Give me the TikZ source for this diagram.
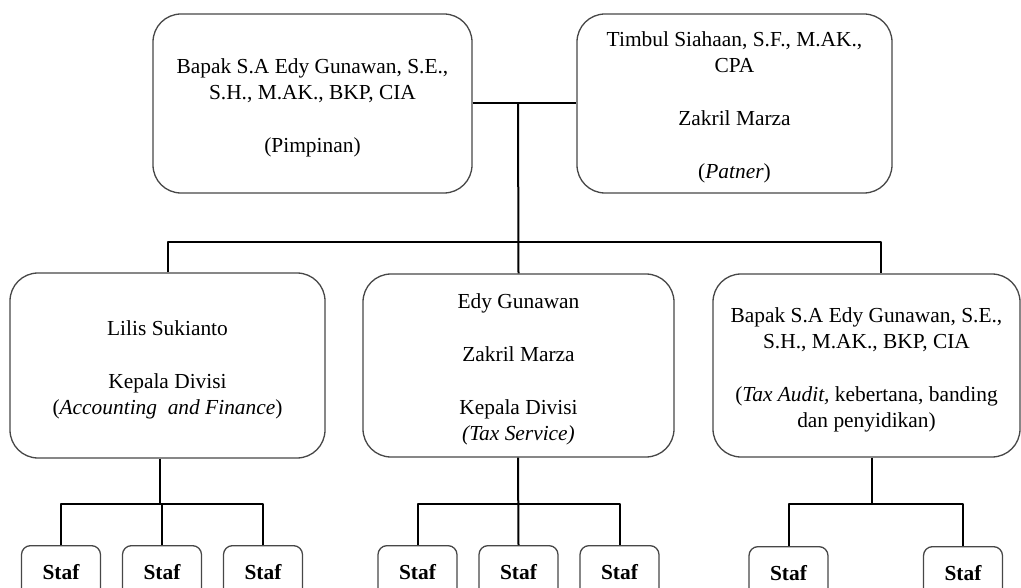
\documentclass[tikz,border=0pt]{standalone}
\usepackage{fontspec}
\setmainfont{Liberation Serif}
\usetikzlibrary{positioning}
\newcommand\turun{\rule{0pt}{23pt}}
\tikzset{
  kotak/.style={draw=black!72, line width=1.3pt, rounded corners=28pt,
    align=center, inner sep=0pt, font=\fontsize{21.4}{26}\selectfont},
  staf/.style={draw=black!72, line width=1.3pt, rounded corners=9pt,
    anchor=north, minimum width=79pt, minimum height=52pt, inner sep=0pt,
    font=\fontsize{21.4}{26}\selectfont\bfseries},
  garis/.style={line width=2pt, black}
}
\begin{document}
\begin{tikzpicture}[x=1pt,y=-1pt,line join=round]
		\useasboundingbox (0,0) rectangle (1021,588);
		\clip (0,0) rectangle (1021,588);
		%==Baris atas
		\node[kotak, minimum width=319pt, minimum height=179pt] (pimpinan) at (312.5,103.5)
			{\turun Bapak S.A Edy Gunawan, S.E.,\\ S.H., M.AK., BKP, CIA\\[27pt] (Pimpinan)};
		\node[kotak, minimum width=315pt, minimum height=179pt] (patner) at (734.5,103.5)
			{\turun Timbul Siahaan, S.F., M.AK.,\\ CPA\\[27pt] Zakril Marza\\[27pt] (\textit{Patner})};
		%==Baris tengah
		\node[kotak, minimum width=315pt, minimum height=185pt] (divA) at (167.5,365.5)
			{\turun Lilis Sukianto\\[27pt] Kepala Divisi\\ (\textit{Accounting\ \ and Finance})};
		\node[kotak, minimum width=311pt, minimum height=183pt] (divB) at (518.5,365.5)
			{\turun Edy Gunawan\\[27pt] Zakril Marza\\[27pt] Kepala Divisi\\ \textit{(Tax Service)}};
		\node[kotak, minimum width=307pt, minimum height=183pt] (divC) at (866.5,365.5)
			{\turun Bapak S.A Edy Gunawan, S.E.,\\ S.H., M.AK., BKP, CIA\\[27pt]
			 (\textit{Tax Audit,} kebertana, banding\\ dan penyidikan)};
		%==Staf
		\node[staf] (sA1) at (61,545) {Staf};
		\node[staf] (sA2) at (162,545) {Staf};
		\node[staf] (sA3) at (263,545) {Staf};
		\node[staf] (sB1) at (417.5,545) {Staf};
		\node[staf] (sB2) at (518.5,545) {Staf};
		\node[staf] (sB3) at (619.5,545) {Staf};
		\node[staf] (sC1) at (788.5,546) {Staf};
		\node[staf] (sC2) at (963,546) {Staf};
		%==Garis penghubung
		\coordinate (atas) at (518,103.5);
		\coordinate (bagi) at (518,242);
		\draw[garis] (pimpinan.east)--(patner.west);
		\draw[garis] (atas)--(divB.north);
		\draw[garis] (divA.north) |- (bagi) -| ([xshift=14pt]divC.north);
		\coordinate (cabA) at (160,504);
		\coordinate (cabB) at (518,504);
		\coordinate (cabC) at (872,504);
		\draw[garis] (divA.south -| cabA)--(cabA);
		\draw[garis] (sA1.north) |- (cabA) -| (sA3.north);
		\draw[garis] (cabA -| sA2.north)--(sA2.north);
		\draw[garis] (divB.south -| cabB)--(sB2.north);
		\draw[garis] (sB1.north) |- (cabB) -| (sB3.north);
		\draw[garis] (divC.south -| cabC)--(cabC);
		\draw[garis] (sC1.north) |- (cabC) -| (sC2.north);
		\end{tikzpicture}
\end{document}
